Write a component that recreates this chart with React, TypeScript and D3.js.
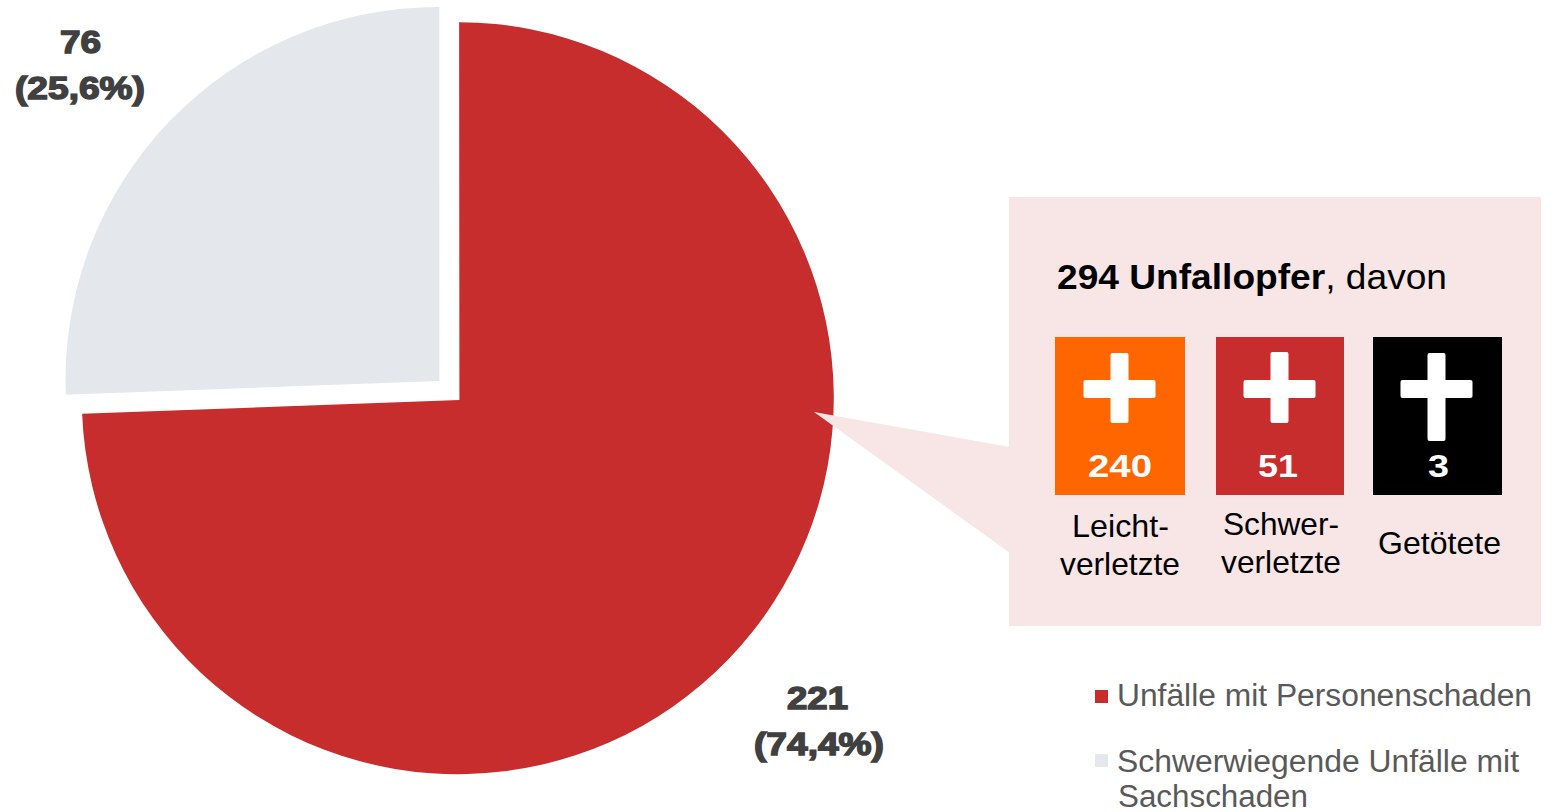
import React from "react";
import * as d3 from "d3";

const categories = ["Unfälle mit Personenschaden", "Schwerwiegende Unfälle mit", "Sachschaden"];
const accidentCounts = [221, 76];
const accidentShares = ["74,4%", "25,6%"];
const sliceColors = ["#C82D2D", "#E4E8ED"];
const victimLabels = [["Leicht-", "verletzte"], ["Schwer-", "verletzte"], ["Getötete"]];
const victimCounts = [240, 51, 3];
const victimColors = ["#FF6600", "#C82D2D", "#000000"];

const FONT = "'Liberation Sans', Arial, sans-serif";

type TProps = { x: number; y: number; w: number; size: number; fill: string; bold?: boolean; stroke?: number; children: React.ReactNode };
function T({ x, y, w, size, fill, bold, stroke, children }: TProps) {
  return (
    <text x={x} y={y} textLength={w} lengthAdjust="spacingAndGlyphs" fontFamily={FONT} fontSize={size}
      fontWeight={bold ? 700 : 400} fill={fill} stroke={stroke ? fill : undefined} strokeWidth={stroke}>
      {children}
    </text>
  );
}

type Geom = { ax: number; ay: number; cx: number; cy: number; r: number; d0: number; d1: number };
function wedge(start: number, end: number, g: Geom) {
  const a0 = start + g.d0;
  const a1 = end + g.d1;
  const p = d3.path();
  p.moveTo(g.ax, g.ay);
  p.lineTo(g.cx + g.r * Math.sin(a0), g.cy - g.r * Math.cos(a0));
  p.arc(g.cx, g.cy, g.r, a0 - Math.PI / 2, a1 - Math.PI / 2);
  p.closePath();
  return p.toString();
}

export default function App() {
  const pieGen = d3.pie<number>().sort(null).value((d) => d);
  const slices = pieGen(accidentCounts);
  const geom: Geom[] = [
    { ax: 459.4, ay: 400, cx: 457.8, cy: 398.2, r: 376, d0: 0.0035, d1: -0.0042 },
    { ax: 439.4, ay: 381, cx: 438, cy: 379.5, r: 372.5, d0: -0.0042, d1: 0.0035 },
  ];

  const boxes = [
    { x: 1055, w: 130, cx: 1119.5, top: 353, bottom: 423, tx: 1088, tw: 64, lines: [{ x: 1072, y: 537, w: 97 }, { x: 1060, y: 575, w: 120 }] },
    { x: 1216, w: 128, cx: 1279.5, top: 352, bottom: 423, tx: 1258, tw: 40, lines: [{ x: 1223, y: 535, w: 116 }, { x: 1221, y: 573, w: 120 }] },
    { x: 1373, w: 129, cx: 1436.5, top: 353, bottom: 441, tx: 1428, tw: 21, lines: [{ x: 1378, y: 554, w: 123 }] },
  ];

  return (
    <svg width={1557} height={812} style={{ position: "absolute", left: 0, top: 0, background: "#fff" }}>
      {slices.map((s, i) => (
        <path key={i} d={wedge(s.startAngle, s.endAngle, geom[i])} fill={sliceColors[i]} />
      ))}

      <polygon points="814,412 1010,447 1010,553" fill="#F8E6E6" />
      <rect x={1009} y={197} width={532} height={429} fill="#F8E6E6" />

      <text x={1057} y={289} textLength={390} lengthAdjust="spacingAndGlyphs" fontFamily={FONT} fontSize={35} fill="#000">
        <tspan fontWeight={700}>294 Unfallopfer</tspan>, davon
      </text>

      {boxes.map((b, i) => (
        <g key={i}>
          <rect x={b.x} y={337} width={b.w} height={158} fill={victimColors[i]} />
          <rect x={b.cx - 9} y={b.top} width={18} height={b.bottom - b.top} rx={2} fill="#fff" />
          <rect x={b.cx - 36} y={380} width={72} height={18} rx={2} fill="#fff" />
          <T x={b.tx} y={477} w={b.tw} size={32} fill="#fff" bold>{victimCounts[i]}</T>
          {victimLabels[i].map((l, j) => (
            <T key={j} x={b.lines[j].x} y={b.lines[j].y} w={b.lines[j].w} size={32} fill="#000">{l}</T>
          ))}
        </g>
      ))}

      <T x={60} y={53} w={41} size={32} fill="#404040" bold stroke={1.5}>{accidentCounts[1]}</T>
      <T x={15} y={99} w={130} size={32} fill="#404040" bold stroke={1.5}>({accidentShares[1]})</T>
      <T x={787} y={709} w={61} size={32} fill="#404040" bold stroke={1.5}>{accidentCounts[0]}</T>
      <T x={754} y={755} w={130} size={32} fill="#404040" bold stroke={1.5}>({accidentShares[0]})</T>

      <rect x={1095} y={690} width={13} height={13} fill={sliceColors[0]} />
      <T x={1117} y={706} w={415} size={31} fill="#595959">{categories[0]}</T>
      <rect x={1095} y={754} width={13} height={13} fill={sliceColors[1]} />
      <T x={1117} y={772} w={402} size={31} fill="#595959">{categories[1]}</T>
      <T x={1118} y={807} w={190} size={31} fill="#595959">{categories[2]}</T>
    </svg>
  );
}
